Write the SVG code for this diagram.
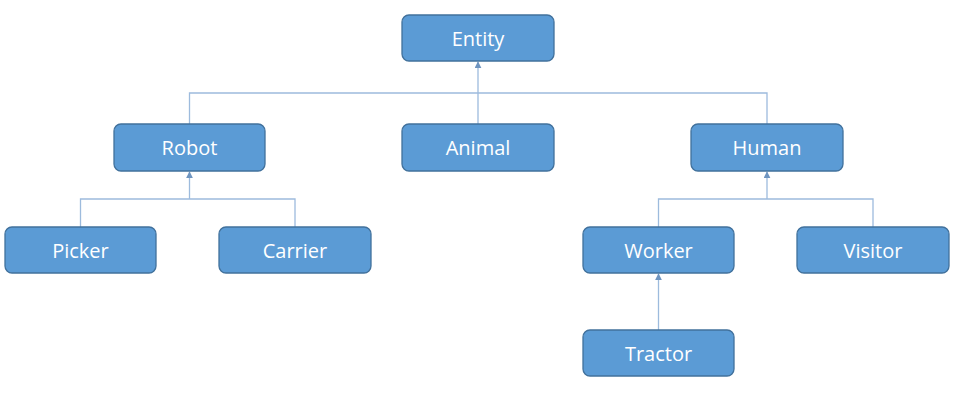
<svg xmlns="http://www.w3.org/2000/svg" width="960" height="402" viewBox="0 0 960 402">
<style>
.box{fill:#5B9BD5;stroke:#41719C;stroke-width:1.3}
.lbl{fill:#fff;font-family:"Open Sans","Liberation Sans",sans-serif;font-size:20px;text-anchor:middle}
.ln{fill:none;stroke:#9DBBDD;stroke-width:1.3}
</style>
<defs>
<marker id="ah" viewBox="0 0 10 10" refX="9" refY="5" markerWidth="7" markerHeight="7" markerUnits="userSpaceOnUse" orient="auto">
<path d="M0,0 L10,5 L0,10 z" fill="#6F95C0"/>
</marker>
</defs>
<rect width="960" height="402" fill="#fff"/>
<g id="connectors">
<path class="ln" d="M189.5,124 V93 H767 V124"/>
<path class="ln" d="M478,124 V62" marker-end="url(#ah)"/>
<path class="ln" d="M80.5,227 V199 H295 V227"/>
<path class="ln" d="M189.5,199 V172" marker-end="url(#ah)"/>
<path class="ln" d="M658.5,227 V199 H873 V227"/>
<path class="ln" d="M767,199 V172" marker-end="url(#ah)"/>
<path class="ln" d="M658.5,330 V274" marker-end="url(#ah)"/>
</g>
<g id="entity"><rect class="box" x="402" y="15" width="152" height="46" rx="7"/><text class="lbl" x="478" y="45.5">Entity</text></g>
<g id="robot"><rect class="box" x="114" y="124" width="151" height="47" rx="7"/><text class="lbl" x="189.5" y="155">Robot</text></g>
<g id="animal"><rect class="box" x="402" y="124" width="152" height="47" rx="7"/><text class="lbl" x="478" y="155">Animal</text></g>
<g id="human"><rect class="box" x="691" y="124" width="152" height="47" rx="7"/><text class="lbl" x="767" y="155">Human</text></g>
<g id="picker"><rect class="box" x="5" y="227" width="151" height="46" rx="7"/><text class="lbl" x="80.5" y="257.5">Picker</text></g>
<g id="carrier"><rect class="box" x="219" y="227" width="152" height="46" rx="7"/><text class="lbl" x="295" y="257.5">Carrier</text></g>
<g id="worker"><rect class="box" x="583" y="227" width="151" height="46" rx="7"/><text class="lbl" x="658.5" y="257.5">Worker</text></g>
<g id="visitor"><rect class="box" x="797" y="227" width="152" height="46" rx="7"/><text class="lbl" x="873" y="257.5">Visitor</text></g>
<g id="tractor"><rect class="box" x="583" y="330" width="151" height="46" rx="7"/><text class="lbl" x="658.5" y="360.5">Tractor</text></g>
</svg>
